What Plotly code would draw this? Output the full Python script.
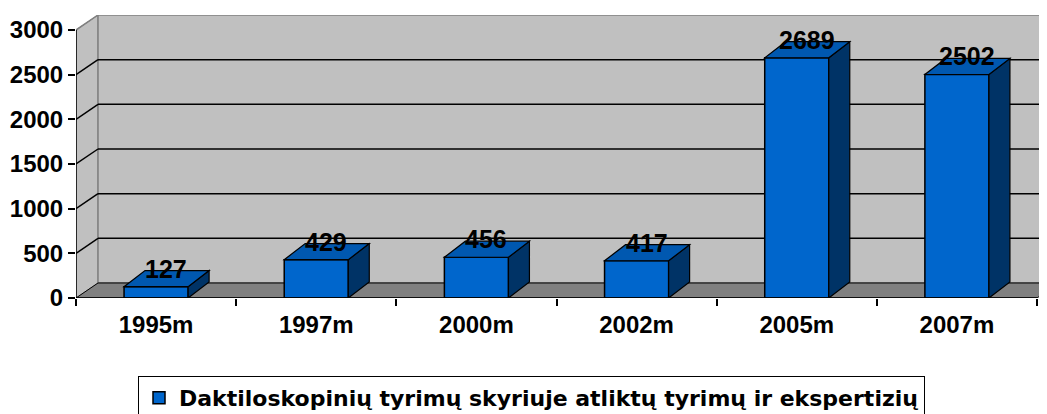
import plotly.graph_objects as go

categories = ["1995m", "1997m", "2000m", "2002m", "2005m", "2007m"]
values = [127, 429, 456, 417, 2689, 2502]
y_ticks = [0, 500, 1000, 1500, 2000, 2500, 3000]
series_name = "Daktiloskopinių tyrimų skyriuje atliktų tyrimų ir ekspertizių"

FONT = "Arial, 'Liberation Sans', sans-serif"
LEGEND_FONT = "'DejaVu Sans', Arial, sans-serif"
FRONT = "#0066CC"
SIDE = "#003366"
TOP = "#0058B0"
WALL = "#C0C0C0"
FLOOR = "#808080"

# 3D offsets in data units
DX = 0.1374   # wall depth (x)
DY = 168      # wall depth (y)
BDX = 0.131   # bar depth (x)
BDY = 180     # bar depth (y)
BW = 0.4      # bar width
YMAX = 3000
n = len(categories)
xs = list(range(n))
xl, xr = -0.5, n - 0.5

shapes = []
# side wall
shapes.append(dict(type="path", layer="below",
                   path=f"M{xl},0 L{xl},{YMAX} L{xl+DX},{YMAX+DY} L{xl+DX},{DY} Z",
                   fillcolor=WALL, line=dict(color=FLOOR, width=1)))
# back wall
shapes.append(dict(type="rect", layer="below", x0=xl + DX, x1=xr + DX, y0=DY, y1=YMAX + DY,
                   fillcolor=WALL, line=dict(color=FLOOR, width=1.5)))
# floor
shapes.append(dict(type="path", layer="below",
                   path=f"M{xl},0 L{xr},0 L{xr+DX},{DY} L{xl+DX},{DY} Z",
                   fillcolor=FLOOR, line=dict(color="black", width=1)))
# gridlines
for v in y_ticks[1:-1]:
    shapes.append(dict(type="line", layer="below", x0=xl + DX, x1=xr + DX, y0=v + DY, y1=v + DY,
                       line=dict(color="black", width=1.5)))
    shapes.append(dict(type="line", layer="below", x0=xl, x1=xl + DX, y0=v, y1=v + DY,
                       line=dict(color="black", width=1.5)))
# top diagonal (gray)
shapes.append(dict(type="line", layer="below", x0=xl, x1=xl + DX, y0=YMAX, y1=YMAX + DY,
                   line=dict(color=FLOOR, width=1.5)))
# front axes
shapes.append(dict(type="line", layer="above", x0=xl, x1=xl, y0=0, y1=YMAX,
                   line=dict(color="black", width=1.5)))
shapes.append(dict(type="line", layer="above", x0=xl, x1=xr, y0=0, y1=0,
                   line=dict(color="black", width=1.5)))

# bar side and top faces
for x, v in zip(xs, values):
    r = x + BW / 2
    l = x - BW / 2
    shapes.append(dict(type="path", layer="above",
                       path=f"M{r},0 L{r+BDX},{BDY} L{r+BDX},{v+BDY} L{r},{v} Z",
                       fillcolor=SIDE, line=dict(color="black", width=1.2)))
    shapes.append(dict(type="path", layer="above",
                       path=f"M{l},{v} L{r},{v} L{r+BDX},{v+BDY} L{l+BDX},{v+BDY} Z",
                       fillcolor=TOP, line=dict(color="black", width=1.2)))

fig = go.Figure()
fig.add_trace(go.Bar(
    x=xs, y=values, width=BW, name=series_name, showlegend=True,
    marker=dict(color=FRONT, line=dict(color="black", width=1.5)),
))

annotations = []
for x, v in zip(xs, values):
    annotations.append(dict(x=x, y=v, xref="x", yref="y", text=str(v), showarrow=False,
                            xshift=10, yshift=18,
                            font=dict(family=FONT, size=25, color="black", weight="bold")))

# the page body adds an 8px offset; the figure is sized to compensate
fig.update_layout(
    width=1039, height=406,
    margin=dict(l=68, r=0, t=7, b=116, autoexpand=False),
    paper_bgcolor="white", plot_bgcolor="white",
    shapes=shapes, annotations=annotations,
    font=dict(family=FONT, color="black"),
    xaxis=dict(range=[xl, xr + 10 / 160.17], tickvals=xs, ticktext=categories,
               ticks="", showgrid=False, zeroline=False, showline=False, automargin=False,
               tickfont=dict(family=FONT, size=24, color="black", weight="bold"),
               ticklabelstandoff=10,
               minor=dict(tickvals=[xl + i for i in range(n + 1)], ticks="outside",
                          ticklen=7, tickwidth=1.5, tickcolor="black", showgrid=False)),
    yaxis=dict(range=[0, YMAX + DY], tickvals=y_ticks, ticks="outside", ticklen=7,
               tickwidth=1.5, tickcolor="black", showgrid=False, zeroline=False,
               showline=False, automargin=False,
               tickfont=dict(family=FONT, size=24, color="black", weight="bold")),
    legend=dict(orientation="h", x=(138 - 76) / 971, xanchor="left",
                y=(298 - 376) / 283, yanchor="top",
                bordercolor="black", borderwidth=1, bgcolor="white",
                font=dict(family=LEGEND_FONT, size=22, color="black", weight="bold")),
)

fig.write_html("out.html")
